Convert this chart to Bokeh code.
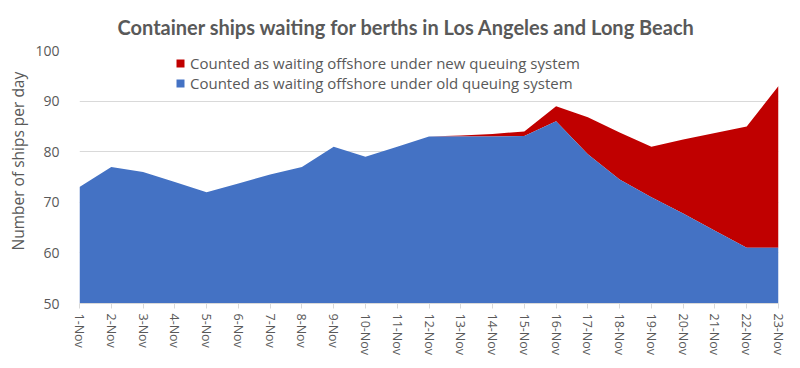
import numpy as np
from bokeh.plotting import figure
from bokeh.models import Range1d, Legend, LegendItem, FixedTicker, ColumnDataSource, Title
from bokeh.embed import file_html
from bokeh.resources import INLINE

dates = ["1-Nov", "2-Nov", "3-Nov", "4-Nov", "5-Nov", "6-Nov", "7-Nov", "8-Nov", "9-Nov", "10-Nov",
         "11-Nov", "12-Nov", "13-Nov", "14-Nov", "15-Nov", "16-Nov", "17-Nov", "18-Nov", "19-Nov",
         "20-Nov", "21-Nov", "22-Nov", "23-Nov"]
old_system = [73, 77, 76, 74, 72, 73.7, 75.5, 77, 81, 79, 81, 83, 83, 83, 83.1, 86, 79.5, 74.5, 71,
              67.8, 64.4, 61, 61]
new_system_extra = [0, 0, 0, 0, 0, 0, 0, 0, 0, 0, 0, 0, 0.2, 0.5, 0.9, 3, 7.3, 9.3, 10, 14.6, 19.3, 24, 32]
y_ticks = [50, 60, 70, 80, 90, 100]

x = list(range(len(dates)))
total = [o + n for o, n in zip(old_system, new_system_extra)]
src = ColumnDataSource(dict(x=x, base=[50] * len(x), old=old_system, total=total))

GRAY = "#595959"
RED = "#C00000"
BLUE = "#4472C4"
p = figure(width=792, height=360, output_backend="svg", toolbar_location=None,
           x_range=Range1d(0, len(dates) - 1), y_range=Range1d(50, 100),
           min_border_left=72, min_border_right=14, min_border_top=49, min_border_bottom=57)
p.title = Title(text="Container ships waiting for berths in Los Angeles and Long Beach",
                align="left", text_font="Lato", text_font_size="20px", text_font_style="bold",
                text_color=GRAY, offset=38, standoff=24)
p.outline_line_color = None
p.background_fill_color = "white"

p.varea(x="x", y1="old", y2="total", source=src, fill_color=RED)
p.varea(x="x", y1="base", y2="old", source=src, fill_color=BLUE)

nan_src = ColumnDataSource(dict(l=np.array([np.nan]), r=np.array([np.nan]),
                                b=np.array([np.nan]), t=np.array([np.nan])))
leg_red = p.quad(left="l", right="r", bottom="b", top="t", source=nan_src, fill_color=RED, line_color=None)
leg_blue = p.quad(left="l", right="r", bottom="b", top="t", source=nan_src, fill_color=BLUE, line_color=None)

p.xgrid.grid_line_color = None
p.ygrid.grid_line_color = "#D9D9D9"
p.ygrid.ticker = FixedTicker(ticks=y_ticks)

p.yaxis.ticker = FixedTicker(ticks=y_ticks)
p.yaxis.axis_line_color = None
p.yaxis.major_tick_line_color = None
p.yaxis.minor_tick_line_color = None
p.yaxis.major_label_text_color = GRAY
p.yaxis.major_label_text_font = "Open Sans"
p.yaxis.major_label_text_font_size = "14px"
p.yaxis.major_label_standoff = 14

ylab = Title(text="Number of ships per day", align="left", offset=53, standoff=8,
             text_font="Open Sans", text_font_style="normal", text_font_size="15.5px",
             text_color=GRAY)
p.add_layout(ylab, "left")

p.xaxis.ticker = FixedTicker(ticks=x)
p.xaxis.major_label_overrides = {i: d for i, d in enumerate(dates)}
p.xaxis.major_label_orientation = "vertical"
p.xaxis.axis_line_color = "#D9D9D9"
p.xaxis.major_tick_line_color = "#D9D9D9"
p.xaxis.major_tick_in = 0
p.xaxis.major_tick_out = 5
p.xaxis.minor_tick_line_color = None
p.xaxis.major_label_text_color = GRAY
p.xaxis.major_label_text_font = "Open Sans"
p.xaxis.major_label_text_font_size = "12.5px"

legend = Legend(items=[
    LegendItem(label="Counted as waiting offshore under new queuing system", renderers=[leg_red]),
    LegendItem(label="Counted as waiting offshore under old queuing system", renderers=[leg_blue]),
], location=(96, 210), background_fill_alpha=0, border_line_color=None,
    label_text_color=GRAY, label_text_font="Open Sans", label_text_font_size="15px",
    glyph_width=10, glyph_height=10, label_standoff=5, spacing=0, padding=0,
    label_height=19)
p.add_layout(legend, "center")

open("out.html", "w").write(file_html(p, INLINE))
